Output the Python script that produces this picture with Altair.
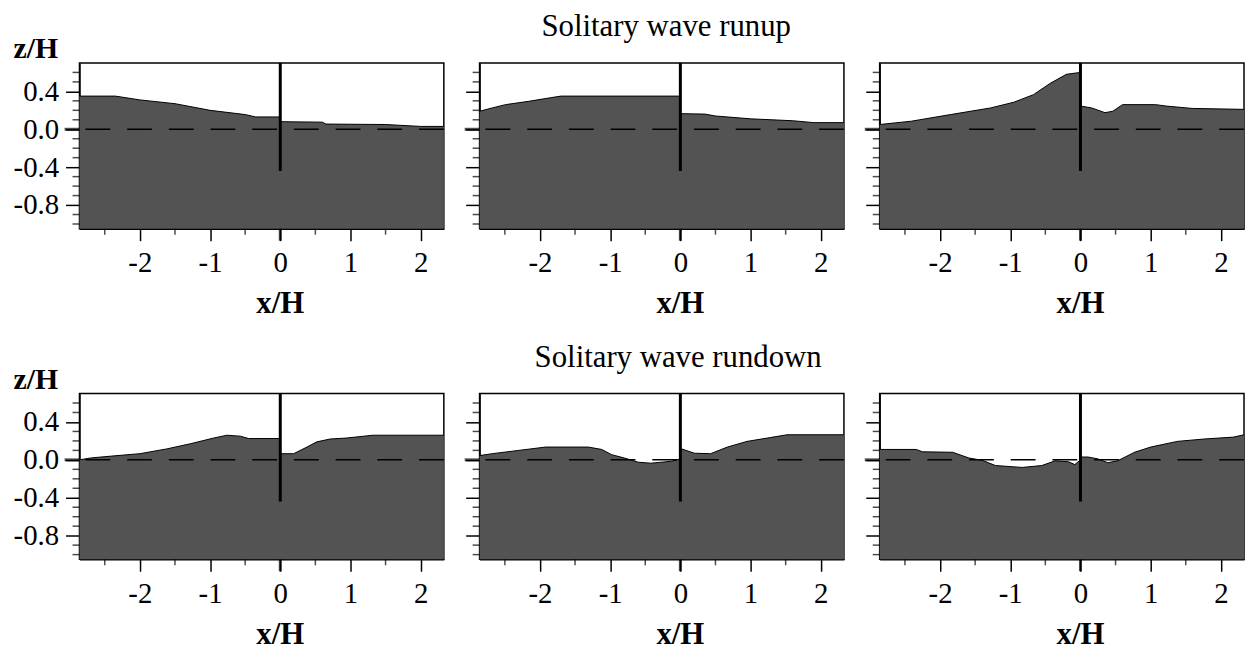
import altair as alt
import pandas as pd

SERIF = "Liberation Serif"
FILL = "#535353"
W, H = 367, 167

X_DOMAIN = [-2.86, 2.33]
Z_DOMAIN = [-1.05, 0.70]
WALL_BOTTOM = -0.44

x_major = [-2, -1, 0, 1, 2]
x_minor = [-2.5, -1.5, -0.5, 0.5, 1.5]
z_major = [-0.8, -0.4, 0.0, 0.4]
z_minor = [-1.0, -0.9, -0.7, -0.6, -0.5, -0.3, -0.2, -0.1, 0.1, 0.2, 0.3, 0.5, 0.6]

row_titles = ["Solitary wave runup", "Solitary wave rundown"]
x_label = "x/H"
z_label = "z/H"

# ---- runup, panel 1
p1_left_x = [-2.86, -2.35, -2.0, -1.5, -1.0, -0.5, -0.35, 0.0]
p1_left_z = [0.35, 0.35, 0.31, 0.27, 0.20, 0.155, 0.13, 0.13]
p1_right_x = [0.0, 0.6, 0.65, 1.5, 2.0, 2.33]
p1_right_z = [0.08, 0.075, 0.055, 0.05, 0.03, 0.03]
# ---- runup, panel 2
p2_left_x = [-2.86, -2.68, -2.49, -2.16, -1.83, -1.7, 0.0]
p2_left_z = [0.19, 0.225, 0.26, 0.295, 0.335, 0.35, 0.35]
p2_right_x = [0.0, 0.35, 0.5, 1.0, 1.6, 1.9, 2.33]
p2_right_z = [0.165, 0.16, 0.14, 0.11, 0.09, 0.07, 0.07]
# ---- runup, panel 3
p3_left_x = [-2.86, -2.41, -1.85, -1.28, -0.95, -0.67, -0.43, -0.2, 0.0]
p3_left_z = [0.05, 0.085, 0.155, 0.225, 0.285, 0.365, 0.485, 0.58, 0.6]
p3_right_x = [0.0, 0.16, 0.35, 0.46, 0.6, 1.07, 1.22, 1.59, 2.33]
p3_right_z = [0.245, 0.225, 0.175, 0.19, 0.26, 0.26, 0.245, 0.22, 0.21]
# ---- rundown, panel 4
p4_left_x = [-2.86, -2.7, -2.4, -2.0, -1.62, -1.28, -0.95, -0.76, -0.57, -0.45, 0.0]
p4_left_z = [0.0, 0.02, 0.04, 0.065, 0.115, 0.17, 0.23, 0.26, 0.25, 0.225, 0.225]
p4_right_x = [0.0, 0.19, 0.38, 0.52, 0.71, 0.94, 1.32, 2.33]
p4_right_z = [0.065, 0.065, 0.135, 0.19, 0.22, 0.23, 0.26, 0.26]
# ---- rundown, panel 5
p5_left_x = [-2.86, -2.68, -2.3, -1.92, -1.31, -1.12, -0.98, -0.8, -0.6, -0.42, -0.13, 0.0]
p5_left_z = [0.045, 0.065, 0.10, 0.135, 0.135, 0.11, 0.055, 0.02, -0.025, -0.035, -0.015, 0.01]
p5_right_x = [0.0, 0.2, 0.43, 0.67, 0.95, 1.28, 1.52, 2.33]
p5_right_z = [0.12, 0.07, 0.065, 0.135, 0.195, 0.235, 0.265, 0.265]
# ---- rundown, panel 6
p6_left_x = [-2.86, -2.34, -2.25, -1.82, -1.59, -1.4, -1.21, -0.83, -0.55, -0.36, -0.17, -0.08, 0.0]
p6_left_z = [0.11, 0.11, 0.085, 0.08, 0.02, -0.005, -0.06, -0.08, -0.06, -0.01, -0.02, -0.05, 0.0]
p6_right_x = [0.0, 0.11, 0.25, 0.39, 0.53, 0.77, 1.0, 1.38, 1.76, 2.18, 2.33]
p6_right_z = [0.03, 0.03, 0.01, -0.03, -0.01, 0.08, 0.135, 0.195, 0.22, 0.24, 0.265]


def x_axis():
    return alt.Axis(
        values=x_major,
        labelExpr="(datum.value < 0 ? '-' : '') + format(abs(datum.value), 'd')",
        tickSize=12, tickWidth=1.5,
        labelPadding=8, labelOverlap=False, labelFlush=False, grid=False, title=None,
    )


def y_axis(show_labels):
    kw = dict(
        values=z_major,
        labelExpr="(datum.value < 0 ? '-' : '') + format(abs(datum.value), '.1f')",
        tickSize=14, tickWidth=1.5,
        labelPadding=7, labelOverlap=False, labelFlush=False, grid=False, labels=show_labels,
    )
    if show_labels:
        kw.update(title=z_label, titleAngle=0, titleX=-67, titleY=-5, titleAlign="left",
                  titleBaseline="alphabetic", titleFont=SERIF, titleFontSize=30,
                  titleFontWeight="bold", titleColor="black")
    else:
        kw.update(title=None)
    return alt.Axis(**kw)


def panel(lx, lz, rx, rz, show_ylabels, title=None, title_x=None):
    xs_all = lx + rx
    df = pd.DataFrame({"x": xs_all, "z": lz + rz, "i": list(range(len(xs_all)))})
    xs = alt.Scale(domain=X_DOMAIN, nice=False, zero=False)
    ys = alt.Scale(domain=Z_DOMAIN, nice=False, zero=False)
    X = alt.X("x:Q", scale=xs, axis=x_axis())
    Y = alt.Y("z:Q", scale=ys, axis=y_axis(show_ylabels))
    base = alt.Chart(df)
    area = base.mark_area(color=FILL, opacity=1).encode(
        x=X, y=Y, y2=alt.datum(Z_DOMAIN[0]))
    line = base.mark_line(color="black", strokeWidth=1).encode(
        x="x:Q", y="z:Q", order="i:Q")
    zero = alt.Chart(pd.DataFrame({"z": [0.0]})).mark_rule(
        color="black", strokeWidth=1.5, strokeDash=[25, 17]).encode(y="z:Q")
    wall = alt.Chart(pd.DataFrame({"x": [0.0], "z": [WALL_BOTTOM], "z2": [Z_DOMAIN[1]]})).mark_rule(
        color="black", strokeWidth=3).encode(x="x:Q", y="z:Q", y2="z2:Q")
    # minor ticks along both axes
    xminor = alt.Chart(pd.DataFrame({"x": x_minor})).mark_tick(
        orient="vertical", size=6, thickness=1.5, color="black").encode(
        x="x:Q", y=alt.value(H + 3))
    zminor = alt.Chart(pd.DataFrame({"z": z_minor})).mark_tick(
        orient="horizontal", size=7, thickness=1.5, color="black").encode(
        y="z:Q", x=alt.value(-3.5))
    # bold tick at the wall position on both axes
    xzero = alt.Chart(pd.DataFrame({"x": [0.0]})).mark_tick(
        orient="vertical", size=12, thickness=3, color="black").encode(
        x="x:Q", y=alt.value(H + 6))
    zzero = alt.Chart(pd.DataFrame({"z": [0.0]})).mark_tick(
        orient="horizontal", size=15, thickness=3, color="black").encode(
        y="z:Q", x=alt.value(-7.5))
    xlab = alt.Chart(pd.DataFrame({"x": [0.0], "t": [x_label]})).mark_text(
        font=SERIF, fontSize=31, fontWeight="bold", baseline="alphabetic", align="center",
        color="black").encode(x="x:Q", y=alt.value(H + 85), text="t:N")
    layers = [area, line, zero, wall, xminor, zminor, xzero, zzero, xlab]
    if title is not None:
        ttl = alt.Chart(pd.DataFrame({"t": [title]})).mark_text(
            font=SERIF, fontSize=31, baseline="alphabetic", align="center",
            color="black").encode(x=alt.value(title_x), y=alt.value(-27), text="t:N")
        layers.append(ttl)
    return alt.layer(*layers).properties(width=W, height=H)


row1 = alt.hconcat(
    panel(p1_left_x, p1_left_z, p1_right_x, p1_right_z, True),
    panel(p2_left_x, p2_left_z, p2_right_x, p2_right_z, False, row_titles[0], 188),
    panel(p3_left_x, p3_left_z, p3_right_x, p3_right_z, False),
    spacing=36, bounds="flush",
)
row2 = alt.hconcat(
    panel(p4_left_x, p4_left_z, p4_right_x, p4_right_z, True),
    panel(p5_left_x, p5_left_z, p5_right_x, p5_right_z, False, row_titles[1], 200),
    panel(p6_left_x, p6_left_z, p6_right_x, p6_right_z, False),
    spacing=36, bounds="flush",
)

chart = alt.vconcat(row1, row2, spacing=H + 166, bounds="flush").properties(
    padding={"left": 4, "top": 0, "right": 0, "bottom": 0},
    background="white",
).configure_view(
    stroke="black", strokeWidth=1.5
).configure_axis(
    domainColor="black", domainWidth=1.5, tickColor="black",
    labelFont=SERIF, labelFontSize=29, labelColor="black",
)

chart.save("out.html", embed_options={"renderer": "svg", "actions": False})
